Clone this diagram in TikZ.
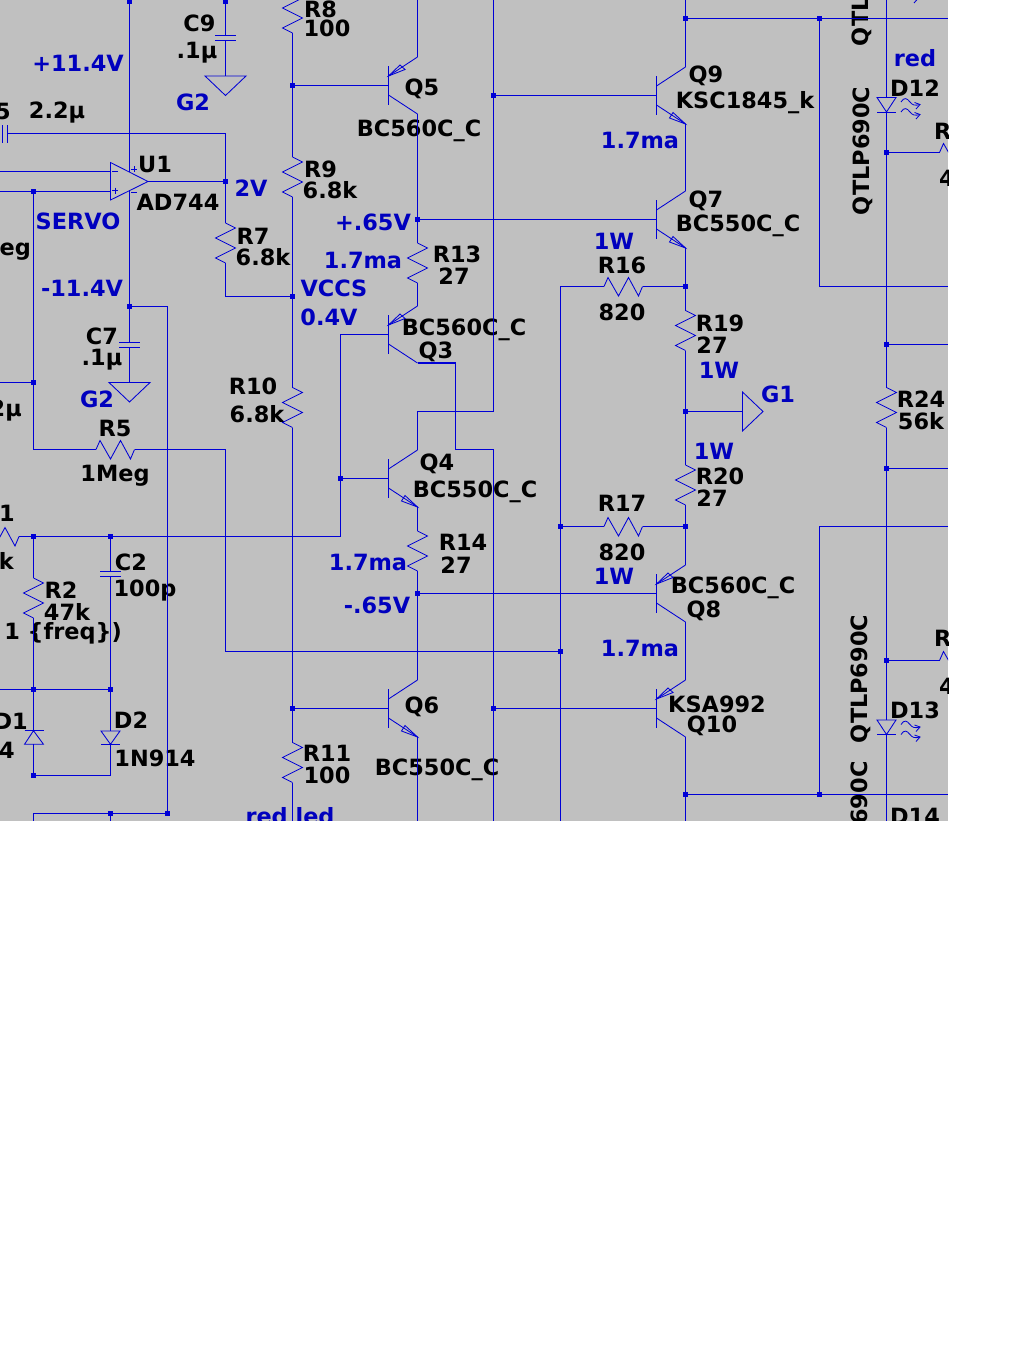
\documentclass[tikz,border=0pt]{standalone}
\usepackage{fontspec}
\setmainfont{DejaVu Sans}
\usetikzlibrary{positioning}
\definecolor{wireblue}{RGB}{0,0,214}
\definecolor{textblue}{RGB}{0,0,190}
\definecolor{sheet}{RGB}{192,192,192}
\tikzset{
    wire/.style={draw=wireblue,line width=1.3pt},
    sym/.style={draw=wireblue,line width=.85pt},
    dot/.style={rectangle,fill=wireblue,draw=none,minimum size=5.5pt,inner sep=0pt},
    lbl/.style={inner sep=0pt,text=black,yshift=-1.2pt,font=\bfseries\fontsize{22.4}{24}\selectfont},
    volt/.style={lbl,text=textblue},
    resv/.pic={
        \draw[sym] (0,0) -- (10,5) -- (-10,15) -- (10,25) -- (-10,35) -- (0,40);
        \coordinate (-a) at (0,0);
        \coordinate (-z) at (0,40);
    },
    resh/.pic={
        \draw[sym] (0,0) -- (4,-9) -- (14.5,9.5) -- (24.5,-9) -- (34.5,9.5) -- (38.5,0);
        \coordinate (-a) at (0,0);
        \coordinate (-z) at (38.5,0);
    },
    capv/.pic={
        \draw[sym] (-10.5,0) -- (10.5,0);
        \draw[sym] (-10.5,4.7) -- (10.5,4.7);
        \coordinate (-a) at (0,0);
        \coordinate (-z) at (0,4.7);
    },
    gnd/.pic={
        \draw[sym] (-20.5,0) -- (20.5,0) -- (0,19.5) -- cycle;
    },
    npn/.pic={
        \draw[sym] (0,-19.5) -- (0,19.5);
        \draw[sym] (0,-9.5) -- (29,-28.5);
        \draw[sym] (0,9.5) -- (29,28.5);
        \draw[sym] (29,28.5) -- (16.5,17) -- (13,22.5) -- cycle;
        \coordinate (-base) at (0,0);
        \coordinate (-up) at (29,-28.5);
        \coordinate (-dn) at (29,28.5);
    },
    pnp/.pic={
        \draw[sym] (0,-19.5) -- (0,19.5);
        \draw[sym] (0,-9.5) -- (29,-28.5);
        \draw[sym] (0,9.5) -- (29,28.5);
        \draw[sym] (0,-9.5) -- (11.5,-20.5) -- (16.5,-16) -- cycle;
        \coordinate (-base) at (0,0);
        \coordinate (-up) at (29,-28.5);
        \coordinate (-dn) at (29,28.5);
    },
    ray/.pic={
        \draw[sym] (0,2) .. controls (3,-3) and (6,-2) .. (9,2) .. controls (11,5) and (14,6) .. (19,4.5);
        \draw[sym] (13.5,2.5) -- (19,4.5) -- (15,9);
    },
    led/.pic={
        \draw[sym] (-9.5,0) -- (9.5,0) -- (0,14.5) -- cycle;
        \draw[sym] (-9.5,14.5) -- (9.5,14.5);
        \pic at (14.5,2.5) {ray};
        \pic at (14.5,12.5) {ray};
        \coordinate (-a) at (0,0);
        \coordinate (-z) at (0,14.5);
    }
}

\begin{document}
\begin{tikzpicture}[x=1pt,y=-1pt]
    \useasboundingbox (0,0) rectangle (1024,1365);
    \fill[white] (0,0) rectangle (1024,1365);
    \begin{scope}
        \clip (0,0) rectangle (948,820.5);
        \fill[sheet] (0,0) rectangle (948,820.5);

        \node[volt] (vPos) at (78,62) {+11.4V};
        \node[volt] (vG2a) at (193,101) {G2};
        \node[volt] (vServo) at (78,220) {SERVO};
        \node[volt] (v2) at (251,187) {2V};
        \node[volt] (vNeg) at (82,287) {-11.4V};
        \node[volt] (vG2b) at (97,398) {G2};
        \node[volt] (vVccs) at (334,287) {VCCS};
        \node[volt] (v04) at (329,316) {0.4V};
        \node[volt] (vP65) at (373,221) {+.65V};
        \node[volt] (vMa1) at (363,259) {1.7ma};
        \node[volt] (vMa2) at (640,139) {1.7ma};
        \node[volt] (vW1) at (614,240) {1W};
        \node[volt] (vW2) at (719,369) {1W};
        \node[volt] (vG1) at (778,393) {G1};
        \node[volt] (vW3) at (714,450) {1W};
        \node[volt] (vMa3) at (368,561) {1.7ma};
        \node[volt] (vM65) at (377,604) {-.65V};
        \node[volt] (vW4) at (614,575) {1W};
        \node[volt] (vMa4) at (640,647) {1.7ma};
        \node[volt] (vRed) at (915,57) {red};
        \node[volt] (vRedLed) at (290,815) {red led};

        \node[lbl] (tC9) at (199.5,22) {C9};
        \node[lbl] (tC9v) at (197,51) {.1µ};
        \node[lbl] (tC5) at (3,110) {5};
        \node[lbl] (tC5v) at (57,111) {2.2µ};
        \node[lbl] (tU1) at (155,163) {U1};
        \node[lbl] (tU1v) at (178,201) {AD744};
        \node[lbl] (tR7) at (253,235) {R7};
        \node[lbl] (tR7v) at (263,256) {6.8k};
        \node[lbl,anchor=west] (tR8) at (304,8) {R8};
        \node[lbl] (tR8v) at (327,27) {100};
        \node[lbl,anchor=west] (tR9) at (304,168) {R9};
        \node[lbl] (tR9v) at (330,189) {6.8k};
        \node[lbl] (tR10) at (253,385) {R10};
        \node[lbl] (tR10v) at (257,413) {6.8k};
        \node[lbl] (tR5) at (115,427) {R5};
        \node[lbl] (tR5v) at (115,475) {1Meg};
        \node[lbl,anchor=east] (tR6v) at (31,249) {Meg};
        \node[lbl] (tC7) at (102,335) {C7};
        \node[lbl] (tC7v) at (102,358) {.1µ};
        \node[lbl,anchor=east] (tC8) at (2,360) {5};
        \node[lbl,anchor=east] (tC8v) at (22,409) {2µ};
        \node[lbl,anchor=east] (tR1) at (15,512) {R1};
        \node[lbl,anchor=east] (tR1v) at (14,560) {k};
        \node[lbl] (tR2) at (61,589) {R2};
        \node[lbl] (tR2v) at (67,611) {47k};
        \node[lbl,anchor=east] (tFreq) at (122,632) {0 1 \{freq\})};
        \node[lbl] (tC2) at (131,561) {C2};
        \node[lbl] (tC2v) at (145,589) {100p};
        \node[lbl,anchor=east] (tD1) at (28,720) {D1};
        \node[lbl,anchor=east] (tD1v) at (15,749) {4};
        \node[lbl] (tD2) at (131,719) {D2};
        \node[lbl] (tD2v) at (155,757) {1N914};
        \node[lbl] (tR11) at (327,752) {R11};
        \node[lbl] (tR11v) at (327,774) {100};
        \node[lbl] (tQ5) at (422,88) {Q5};
        \node[lbl] (tQ5v) at (419,130) {BC560C\_C};
        \node[lbl] (tR13) at (457,253) {R13};
        \node[lbl] (tR13v) at (454,275) {27};
        \node[lbl] (tQ3v) at (464,329) {BC560C\_C};
        \node[lbl] (tQ3) at (436,351) {Q3};
        \node[lbl] (tQ4) at (437,463) {Q4};
        \node[lbl] (tQ4v) at (475,491) {BC550C\_C};
        \node[lbl] (tR14) at (463,541) {R14};
        \node[lbl] (tR14v) at (456,564) {27};
        \node[lbl] (tQ6) at (422,706) {Q6};
        \node[lbl] (tQ6v) at (437,769) {BC550C\_C};
        \node[lbl] (tQ9) at (706,75) {Q9};
        \node[lbl] (tQ9v) at (745,101) {KSC1845\_k};
        \node[lbl] (tQ7) at (706,200) {Q7};
        \node[lbl] (tQ7v) at (738,225) {BC550C\_C};
        \node[lbl] (tR16) at (622,264) {R16};
        \node[lbl] (tR16v) at (622,311) {820};
        \node[lbl] (tR19) at (720,322) {R19};
        \node[lbl] (tR19v) at (712,344) {27};
        \node[lbl] (tR17) at (622,502) {R17};
        \node[lbl] (tR17v) at (622,551) {820};
        \node[lbl] (tR20) at (720,475) {R20};
        \node[lbl] (tR20v) at (712,497) {27};
        \node[lbl] (tQ8v) at (733,587) {BC560C\_C};
        \node[lbl] (tQ8) at (704,610) {Q8};
        \node[lbl] (tQ10v) at (717,703) {KSA992};
        \node[lbl] (tQ10) at (712,725) {Q10};
        \node[lbl] (tR24) at (921,398) {R24};
        \node[lbl] (tR24v) at (921,420) {56k};
        \node[lbl] (tD12) at (915,87) {D12};
        \node[lbl] (tD13) at (915,709) {D13};
        \node[lbl] (tD14) at (915,815) {D14};
        \node[lbl,anchor=west] (tRa) at (934,130) {R};
        \node[lbl,anchor=west] (tRav) at (939,177) {4};
        \node[lbl,anchor=west] (tRb) at (934,637) {R};
        \node[lbl,anchor=west] (tRbv) at (939,685) {4};
        \node[lbl,rotate=90,anchor=west] (tQa) at (862,45) {QTLP690C};
        \node[lbl,rotate=90,anchor=west] (tQb) at (863,214) {QTLP690C};
        \node[lbl,rotate=90,anchor=west] (tQc) at (861,742) {QTLP690C};
        \node[lbl,rotate=90,anchor=east] (tQd) at (861,760) {QTLP690C};

        \pic (r8) at (292.5,-7) {resv};
        \pic (r9) at (292.5,157) {resv};
        \pic (r10) at (292.5,387.5) {resv};
        \pic (r11) at (292.5,742.5) {resv};
        \pic (r7) at (225.5,223) {resv};
        \pic (r2) at (33.5,578) {resv};
        \pic (r13) at (417.5,243) {resv};
        \pic (r14) at (417.5,531) {resv};
        \pic (r19) at (685.5,310.5) {resv};
        \pic (r20) at (685.5,465) {resv};
        \pic (r24) at (886.5,387.5) {resv};
        \pic (r5) at (96,449.5) {resh};
        \pic (r16) at (604,286.5) {resh};
        \pic (r17) at (604,526.5) {resh};
        \pic (r1) at (-19.5,536.5) {resh};
        \pic (ra) at (939.5,152.5) {resh};
        \pic (rb) at (939.5,660.5) {resh};

        \pic (c9) at (225.5,35.3) {capv};
        \pic (c7) at (129.5,342.3) {capv};
        \pic (c2) at (110.5,571.3) {capv};
        \pic (gA) at (225.5,76) {gnd};
        \pic (gB) at (129.5,382.5) {gnd};

        \pic (q5) at (388.5,85.5) {pnp};
        \pic (q3) at (388.5,334.5) {pnp};
        \pic (q4) at (388.5,478.5) {npn};
        \pic (q6) at (388.5,708.5) {npn};
        \pic (q9) at (656.5,95.5) {npn};
        \pic (q7) at (656.5,219.5) {npn};
        \pic (q8) at (656.5,593.5) {pnp};
        \pic (q10) at (656.5,708.5) {pnp};
        \pic (d12) at (886.5,97.5) {led};
        \pic (d13) at (886.5,720) {led};
        \pic (d11ray) at (899,-6) {ray};

        \draw[sym] (110.5,162.5) -- (110.5,200) -- (148,181.5) -- cycle;
        \draw[sym] (112,171.5) -- (118,171.5);
        \draw[sym] (112,190.7) -- (118,190.7);
        \draw[sym] (115,187.7) -- (115,193.7);
        \draw[sym] (131.3,169.3) -- (137.3,169.3);
        \draw[sym] (134.3,166.3) -- (134.3,172.3);
        \draw[sym] (131.3,192.7) -- (137.3,192.7);
        \draw[sym] (2,125) -- (2,143);
        \draw[sym] (7,125) -- (7,143);
        \draw[sym] (742.5,392) -- (742.5,431) -- (763,411.5) -- cycle;
        \draw[sym] (24.5,744.3) -- (43.5,744.3) -- (33.5,730.7) -- cycle;
        \draw[sym] (24.5,730.7) -- (43.5,730.7);
        \draw[sym] (101,731) -- (120,731) -- (110.5,744.3) -- cycle;
        \draw[sym] (101,744.3) -- (120,744.3);

        \node[dot] (jvp) at (129.5,1) {};
        \node[dot] (jc9) at (225.5,1) {};
        \node[dot] (jq5b) at (292.5,85.5) {};
        \node[dot] (jout) at (225.5,181.5) {};
        \node[dot] (jnon) at (33.5,191.5) {};
        \node[dot] (jvccs) at (292.5,296.5) {};
        \node[dot] (jvneg) at (129.5,306.5) {};
        \node[dot] (jser) at (33.5,382.5) {};
        \node[dot] (jr2) at (33.5,536.5) {};
        \node[dot] (jc2) at (110.5,536.5) {};
        \node[dot] (jq4b) at (340.5,478.5) {};
        \node[dot] (jd1) at (33.5,689.5) {};
        \node[dot] (jd2) at (110.5,689.5) {};
        \node[dot] (jd1k) at (33.5,775.5) {};
        \node[dot] (jlowa) at (110.5,813.5) {};
        \node[dot] (jlowb) at (167.5,813.5) {};
        \node[dot] (jq6b) at (292.5,708.5) {};
        \node[dot] (jplus) at (417.5,219.5) {};
        \node[dot] (jminus) at (417.5,593.5) {};
        \node[dot] (jq9b) at (493.5,95.5) {};
        \node[dot] (jq10b) at (493.5,708.5) {};
        \node[dot] (jr17) at (560.5,526.5) {};
        \node[dot] (jfb) at (560.5,651.5) {};
        \node[dot] (jr16) at (685.5,286.5) {};
        \node[dot] (jg1) at (685.5,411.5) {};
        \node[dot] (jr20) at (685.5,526.5) {};
        \node[dot] (jtop) at (685.5,18.5) {};
        \node[dot] (jbot) at (685.5,794.5) {};
        \node[dot] (jtopb) at (819.5,18.5) {};
        \node[dot] (jbotb) at (819.5,794.5) {};
        \node[dot] (jd12) at (886.5,152.5) {};
        \node[dot] (jr24a) at (886.5,344.5) {};
        \node[dot] (jr24b) at (886.5,468.5) {};
        \node[dot] (jd13) at (886.5,660.5) {};

        \coordinate (invL) at (0,171.5);
        \coordinate (invR) at (110.5,171.5);
        \coordinate (nonL) at (0,191.5);
        \coordinate (nonR) at (110.5,191.5);
        \coordinate (u1top) at (129.5,172);
        \coordinate (u1bot) at (129.5,190);
        \coordinate (u1out) at (148,181.5);
        \coordinate (c5R) at (7,133.5);
        \coordinate (g1in) at (742.5,411.5);
        \coordinate (edge18) at (948,18.5);
        \coordinate (edge286) at (948,286.5);
        \coordinate (edge344) at (948,344.5);
        \coordinate (edge468) at (948,468.5);
        \coordinate (edge526) at (948,526.5);
        \coordinate (edge794) at (948,794.5);
        \coordinate (c2n) at (340.5,536.5);

        \draw[wire] (jvp) -- (u1top);
        \draw[wire] (u1bot) -- (jvneg) -- (c7-a);
        \draw[wire] (c7-z) -- (129.5,382.5);
        \draw[wire] (jvneg) -| (jlowb);
        \draw[wire] (jc9) -- (c9-a);
        \draw[wire] (c9-z) -- (225.5,76);
        \draw[wire] (c5R) -| (jout);
        \draw[wire] (jout) -- (r7-a);
        \draw[wire] (u1out) -- (jout);
        \draw[wire] (invL) -- (invR);
        \draw[wire] (nonL) -- (nonR);
        \draw[wire] (r7-z) |- (jvccs);
        \draw[wire] (jnon) -- (jser) |- (r5-a);
        \draw[wire] (0,382.5) -- (jser);
        \draw[wire] (r5-z) -| (225.5,651.5) -- (jfb);
        \draw[wire] (r1-z) -- (jr2) -- (jc2) -- (c2n) -- (jq4b) |- (q3-base);
        \draw[wire] (jq4b) -- (q4-base);
        \draw[wire] (jr2) -- (r2-a);
        \draw[wire] (r2-z) -- (jd1) -- (33.5,730.7);
        \draw[wire] (33.5,744.3) -- (jd1k) -| (110.5,744.3);
        \draw[wire] (jc2) -- (c2-a);
        \draw[wire] (c2-z) -- (jd2) -- (110.5,731);
        \draw[wire] (0,689.5) -- (jd1) -- (jd2);
        \draw[wire] (33.5,821) |- (jlowa) -- (jlowb);
        \draw[wire] (jlowa) -- (110.5,821);

        \draw[wire] (r8-z) -- (jq5b) -- (r9-a);
        \draw[wire] (jq5b) -- (q5-base);
        \draw[wire] (r9-z) -- (jvccs) -- (r10-a);
        \draw[wire] (r10-z) -- (jq6b) -- (r11-a);
        \draw[wire] (jq6b) -- (q6-base);
        \draw[wire] (r11-z) -- (292.5,821);

        \draw[wire] (417.5,0) -- (q5-up);
        \draw[wire] (q5-dn) -- (jplus) -- (r13-a);
        \draw[wire] (r13-z) -- (q3-up);
        \draw[wire] (jplus) -- (q7-base);
        \draw[wire] (q3-dn) -- (455.5,363) -- (455.5,449.5) -- (493.5,449.5) -- (jq10b) -- (493.5,821);
        \draw[wire] (493.5,0) -- (jq9b) -- (493.5,411.5) -- (417.5,411.5) -- (q4-up);
        \draw[wire] (jq9b) -- (q9-base);
        \draw[wire] (jq10b) -- (q10-base);
        \draw[wire] (q4-dn) -- (r14-a);
        \draw[wire] (r14-z) -- (jminus) -- (q6-up);
        \draw[wire] (jminus) -- (q8-base);
        \draw[wire] (q6-dn) -- (417.5,821);

        \draw[wire] (r16-a) -| (jr17) -- (jfb) -- (560.5,821);
        \draw[wire] (jr17) -- (r17-a);
        \draw[wire] (r16-z) -- (jr16);
        \draw[wire] (r17-z) -- (jr20);

        \draw[wire] (685.5,0) -- (jtop) -- (q9-up);
        \draw[wire] (q9-dn) -- (q7-up);
        \draw[wire] (q7-dn) -- (jr16) -- (r19-a);
        \draw[wire] (r19-z) -- (jg1) -- (r20-a);
        \draw[wire] (jg1) -- (g1in);
        \draw[wire] (r20-z) -- (jr20) -- (q8-up);
        \draw[wire] (q8-dn) -- (q10-up);
        \draw[wire] (q10-dn) -- (jbot) -- (685.5,821);

        \draw[wire] (jtop) -- (jtopb) -- (edge18);
        \draw[wire] (jtopb) |- (edge286);
        \draw[wire] (edge526) -| (jbotb);
        \draw[wire] (jbot) -- (jbotb) -- (edge794);

        \draw[wire] (886.5,0) -- (d12-a);
        \draw[wire] (d12-z) -- (jd12) -- (jr24a) -- (r24-a);
        \draw[wire] (jd12) -- (ra-a);
        \draw[wire] (jr24a) -- (edge344);
        \draw[wire] (r24-z) -- (jr24b) -- (jd13) -- (d13-a);
        \draw[wire] (jr24b) -- (edge468);
        \draw[wire] (jd13) -- (rb-a);
        \draw[wire] (d13-z) -- (886.5,821);
    \end{scope}
\end{tikzpicture}
\end{document}
